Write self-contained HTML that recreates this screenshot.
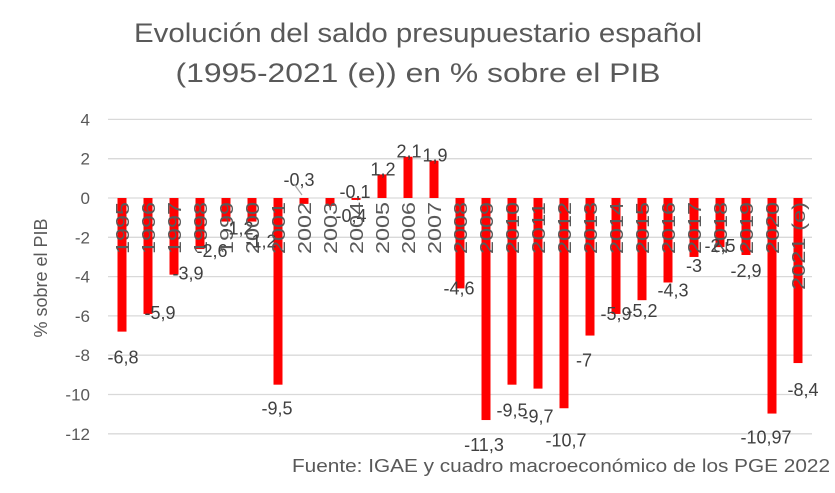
<!DOCTYPE html>
<html><head><meta charset="utf-8"><style>
body{margin:0;background:#fff;width:835px;height:488px;overflow:hidden;font-family:"Liberation Sans",sans-serif}
</style></head><body>
<svg id="c" width="835" height="488" font-family="Liberation Sans, sans-serif">
<text x="418" y="42" text-anchor="middle" font-size="27" fill="#595959" textLength="568" lengthAdjust="spacingAndGlyphs">Evolución del saldo presupuestario español</text>
<text x="418" y="82" text-anchor="middle" font-size="27" fill="#595959" textLength="485" lengthAdjust="spacingAndGlyphs">(1995-2021 (e)) en % sobre el PIB</text>
<text transform="translate(47,278) rotate(-90)" text-anchor="middle" font-size="18" fill="#595959">% sobre el PIB</text>
<text x="830" y="472" text-anchor="end" font-size="18" fill="#595959" textLength="538" lengthAdjust="spacingAndGlyphs">Fuente: IGAE y cuadro macroeconómico de los PGE 2022</text>
<g id="grid"></g><g id="bars"></g><g id="labels"></g>
</svg>
<script>
const years=["1995","1996","1997","1998","1999","2000","2001","2002","2003","2004","2005","2006","2007","2008","2009","2010","2011","2012","2013","2014","2015","2016","2017","2018","2019","2020","2021 (e)"];
const values=[-6.8,-5.9,-3.9,-2.6,-1.2,-1.2,-9.5,-0.3,-0.4,-0.1,1.2,2.1,1.9,-4.6,-11.3,-9.5,-9.7,-10.7,-7,-5.9,-5.2,-4.3,-3,-2.5,-2.9,-10.97,-8.4];
const valueLabels=["-6,8","-5,9","-3,9","-2,6","-1,2","-1,2","-9,5","-0,3","-0,4","-0,1","1,2","2,1","1,9","-4,6","-11,3","-9,5","-9,7","-10,7","-7","-5,9","-5,2","-4,3","-3","-2,5","-2,9","-10,97","-8,4"];
const yTicks=[4,2,0,-2,-4,-6,-8,-10,-12];
const ldx=[1,12,14,12,12,9,-1,-5,21,-1,1,1,1,-1,-2,0,0,2,-6,0,0,5,0,0,0,-6,5];
const ldy=[26,-1,-1,2,7,20,24,-24,10,-8,-5,-5,-5,0,25,26,28,32,25,0,11,8,9,-1,16,24,27];
const svg=document.getElementById('c');const NS='http://www.w3.org/2000/svg';
const y=v=>198-v*19.65; const x=i=>122+i*26;
function mk(t,a,p){const e=document.createElementNS(NS,t);for(const k in a)e.setAttribute(k,a[k]);p.appendChild(e);return e;}
const grid=document.getElementById('grid'),bars=document.getElementById('bars'),labels=document.getElementById('labels');
yTicks.forEach(t=>{
 const l=mk('line',{x1:108,x2:812,y1:y(t),y2:y(t),stroke:'#d9d9d9','stroke-width':1.3},grid);
 
 
 const tx=mk('text',{x:90,y:y(t)+6,'text-anchor':'end','font-size':17,fill:'#595959'},grid);
 tx.textContent=String(t);
 
 
});
values.forEach((v,i)=>{
 const top=Math.min(y(v),y(0)),h=Math.abs(y(v)-y(0));
 const r=mk('rect',{x:x(i)-4.5,y:top,width:9,height:Math.max(h,1),fill:'#ff0000'},bars);
 
 
 const long=years[i].length>4;
 const yl=mk('text',{transform:`translate(${x(i)+7},${202}) rotate(-90)`,'text-anchor':'end','font-size':18,fill:'#595959',textLength:long?88:52,lengthAdjust:'spacingAndGlyphs'},labels);
 yl.textContent=years[i];
 
 
 const vy=y(v)+ldy[i];
 const vl=mk('text',{x:x(i)+ldx[i],y:vy+6,'text-anchor':'middle','font-size':18,fill:'#404040'},labels);
 vl.textContent=valueLabels[i];
 
 
});
const ld=mk('line',{x1:x(7)-10,y1:y(0)-14,x2:x(7)-2,y2:y(0)-3,stroke:'#a6a6a6','stroke-width':1.2},labels);


</script>
</body></html>
